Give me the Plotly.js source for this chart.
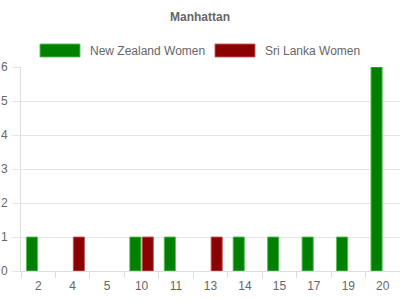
<!DOCTYPE html>
<html>
<head>
<meta charset="utf-8">
<script src="https://cdn.plot.ly/plotly-3.0.1.min.js"></script>
<style>html,body{margin:0;padding:0;background:#fff;}#chart{width:400px;height:300px;}</style>
</head>
<body>
<div id="chart"></div>
<script>
var categories = ['2','4','5','10','11','13','14','15','17','19','20'];
var seriesNames = ['New Zealand Women', 'Sri Lanka Women'];
var nzValues = [1, null, null, 1, 1, null, 1, 1, 1, 1, 6];
var slValues = [null, 1, null, 1, null, 1, null, null, null, null, null];
var yTicks = [0, 1, 2, 3, 4, 5, 6];

var colors = ['#008000', '#8b0000'];
var borders = ['rgba(90,190,90,0.9)', 'rgba(200,90,90,0.9)'];

var traces = [
  {type: 'bar', name: seriesNames[0], x: categories, y: nzValues,
   marker: {color: colors[0], line: {color: borders[0], width: 1}}},
  {type: 'bar', name: seriesNames[1], x: categories, y: slValues,
   marker: {color: colors[1], line: {color: borders[1], width: 1}}}
];

function px2x(p) { return (p - 21) / 379; }
function py2y(p) { return (271 - p) / 204; }

var shapes = [], annotations = [];
var legendX = [[40, 80, 88], [215, 255, 263]];
for (var i = 0; i < 2; i++) {
  shapes.push({type: 'rect', xref: 'paper', yref: 'paper',
    x0: px2x(legendX[i][0]), x1: px2x(legendX[i][1]), y0: py2y(57), y1: py2y(44),
    fillcolor: colors[i], line: {color: borders[i], width: 1}});
  annotations.push({xref: 'paper', yref: 'paper', x: px2x(legendX[i][2]), y: py2y(50.5),
    xanchor: 'left', yanchor: 'middle', showarrow: false, text: seriesNames[i],
    font: {family: 'Liberation Sans, Arial, sans-serif', size: 12, color: '#666'}});
}

var layout = {
  width: 400, height: 300,
  margin: {l: 21, r: 0, t: 67, b: 29},
  paper_bgcolor: '#fff', plot_bgcolor: '#fff',
  showlegend: false,
  title: {text: 'Manhattan', x: 0.5, xanchor: 'center', y: 1 - 17/300, yanchor: 'middle', yref: 'container',
    font: {family: 'Liberation Sans, Arial, sans-serif', size: 12, color: '#666', weight: 'bold'}},
  font: {family: 'Liberation Sans, Arial, sans-serif', size: 12, color: '#666'},
  barmode: 'group', bargap: 0.28, bargroupgap: 0.1,
  xaxis: {type: 'category', categoryarray: categories, showgrid: false, zeroline: false,
    showline: true, linecolor: '#ddd', linewidth: 1,
    ticks: 'outside', tickson: 'boundaries', ticklen: 6, tickcolor: '#ddd',
    tickfont: {size: 12, color: '#666'}, ticklabelstandoff: 4},
  yaxis: {range: [0, 6], tickvals: yTicks, showgrid: true, gridcolor: '#e6e6e6', zeroline: false,
    showline: true, linecolor: '#ddd', linewidth: 1,
    ticks: 'outside', ticklen: 8, tickcolor: '#e6e6e6',
    tickfont: {size: 12, color: '#666'}, ticklabelstandoff: 2},
  shapes: shapes,
  annotations: annotations
};

Plotly.newPlot('chart', traces, layout, {displayModeBar: false, staticPlot: true});
</script>
</body>
</html>
